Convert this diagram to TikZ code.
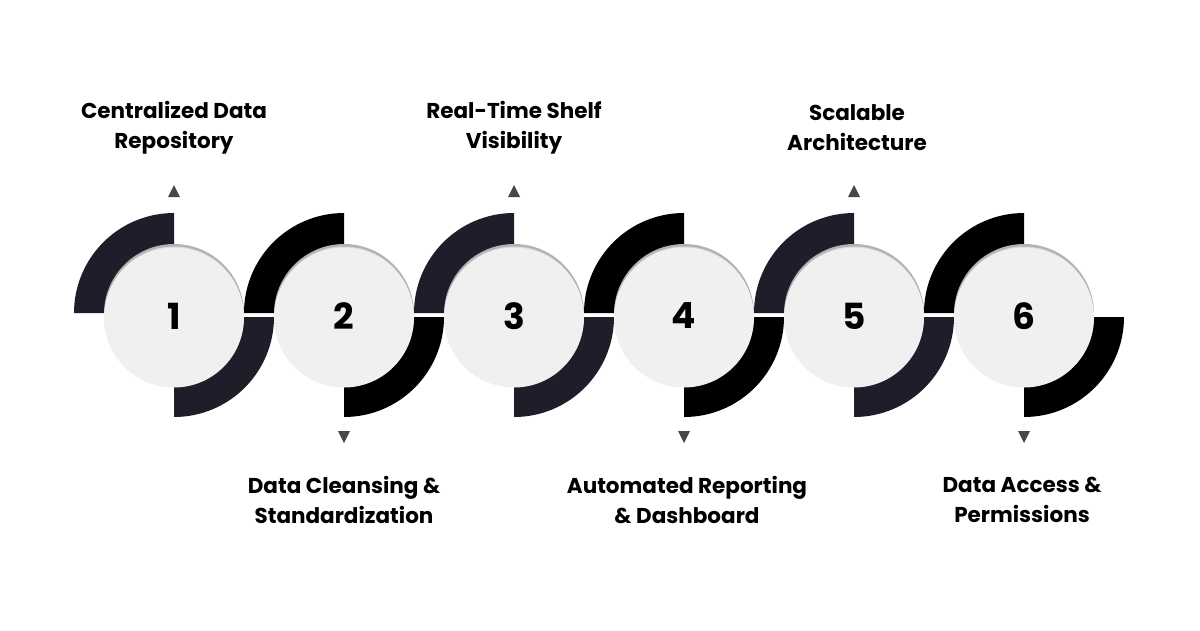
\documentclass[tikz,border=0pt]{standalone}
\usepackage{fontspec}
\setmainfont{Poppins}
\begin{document}
\begin{tikzpicture}[x=1pt,y=-1pt,
  lbl/.style={font=\fontsize{21.5}{30}\selectfont\bfseries,align=center,text=black},
  num/.style={font=\fontsize{36}{36}\selectfont\bfseries,text=black},
  tri/.style={fill=black!72,draw=none},
  disc/.style={circle,minimum size=140pt,inner sep=0pt,fill=black!6,draw=none}]
\useasboundingbox (0,0) rectangle (1200,630);
\fill[white] (0,0) rectangle (1200,630);
\definecolor{navy}{HTML}{1F1D29}
\foreach \i in {1,...,6}{
  \pgfmathsetmacro{\cx}{4+170*\i}
  \pgfmathparse{mod(\i,2)==1?1:0}
  \ifnum\pgfmathresult=1 \def\col{navy}\else\def\col{black}\fi
  \fill[\col] (\cx,313) -- (\cx-100,313) arc[start angle=180,end angle=270,radius=100] -- cycle;
  \fill[\col] (\cx,317) -- (\cx+100,317) arc[start angle=0,end angle=90,radius=100] -- cycle;
}
\foreach \i in {1,...,6}{
  \pgfmathsetmacro{\cx}{4+170*\i}
  \fill[black!30] (\cx,314) circle[radius=70];
  \fill[black!15] (\cx,315.5) circle[radius=69];
  \node[disc] (c\i) at (\cx,317.5) {};
  \node[num] (n\i) at (\cx,316) {\i};
}
\foreach \i in {1,3,5}{
  \pgfmathsetmacro{\cx}{4+170*\i}
  \fill[tri] (\cx-6,197) -- (\cx+6,197) -- (\cx,185) -- cycle;
}
\foreach \i in {2,4,6}{
  \pgfmathsetmacro{\cx}{4+170*\i}
  \fill[tri] (\cx-6,431) -- (\cx+6,431) -- (\cx,443) -- cycle;
}
\node[lbl] (t1) at (174,128) {Centralized Data\\Repository};
\node[lbl] (t3) at (514,128) {Real-Time Shelf\\Visibility};
\node[lbl] (t5) at (857,128) {Scalable\\Architecture};
\node[lbl] (t2) at (344,500) {Data Cleansing \&\\Standardization};
\node[lbl] (t4) at (687,500) {Automated Reporting\\\& Dashboard};
\node[lbl] (t6) at (1022,500) {Data Access \&\\Permissions};
\end{tikzpicture}
\end{document}
